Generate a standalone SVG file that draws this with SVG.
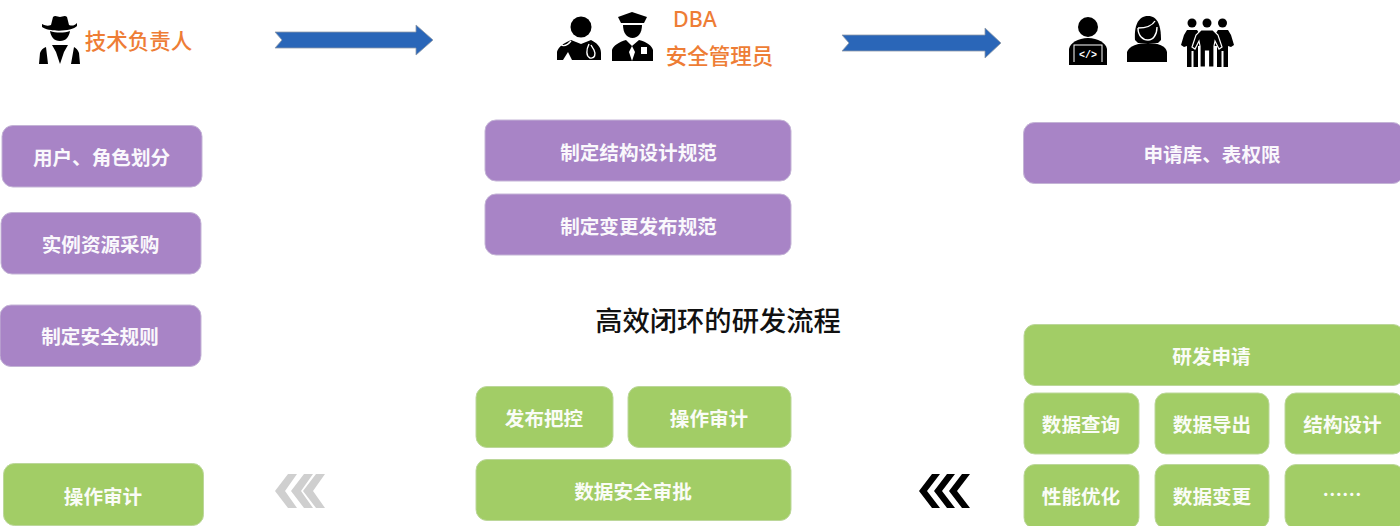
<svg xmlns="http://www.w3.org/2000/svg" width="1400" height="526" viewBox="0 0 1400 526">
<style>
text{font-family:"Noto Sans CJK SC","Noto Sans",sans-serif;text-anchor:middle}
.p{fill:#a884c6;stroke:#c4b4d6;stroke-width:1}
.g{fill:#a2cd66;stroke:#bcd79a;stroke-width:1}
.l{fill:#fff;font-size:19.6px;font-weight:700;opacity:.95}
.o{fill:#ee7d35;font-size:21.5px;font-weight:500}
.t{fill:#111;font-size:27.3px;font-weight:500}
.a{fill:#2a66b8;stroke:#8f9aa8;stroke-width:.8}
.k{fill:#000}
.w{fill:none;stroke:#fff;stroke-width:1.4}
</style>
<rect width="1400" height="526" fill="#fff"/>
<g id="connectors">
<path class="a" d="M275 32H416V25L433 40L416 55V48H275L282 40Z"/>
<path class="a" d="M842 35H985V28L1001 43L985 58V51H842L849 43Z"/>
<path fill="#cfcfcf" d="M288 474H297L285 491L297 508H288L275 491ZM304 474H313L301 491L313 508H304L291 491ZM316 474H325L313 491L325 508H316L303 491Z"/>
<path fill="#000" d="M932 474H940L927 491L940 508H932L919 491ZM947 474H955L942 491L955 508H947L934 491ZM962 474H970L957 491L970 508H962L949 491Z"/>
</g>
<g id="lead">
<path class="k" d="M42 24C46 26 48 26 51 25L53 17C55 15 58 17 60 17C62 17 65 15 67 17L69 25C72 26 74 26 77 23L77 26C72 32 48 32 42 27Z"/>
<path class="k" d="M50 31C56 33 64 33 70 31C69 37 66 41 60 41C54 41 51 37 50 31Z"/>
<path class="k" d="M46 47L48 64H39L40 53C41 50 43 48 46 47ZM74 47L71 64H80L79 53C78 50 76 48 74 47ZM52 45H68L64 52L60 64L56 52Z"/>
<text class="o" x="138.500" y="49">技术负责人</text>
</g>
<g id="dba">
<circle class="k" cx="581" cy="27" r="10.500"/>
<path class="k" d="M557 60V52C558 47 564 43 571 40L581 44L591 40C597 43 601 47 601 53V60H572L568 52L563 60Z"/>
<path d="M589 44C586 50 586 56 590 58C595 59 596 54 594 50L591 45M571 41C566 47 560 47 561 42" fill="none" stroke="#fff" stroke-width="1.400"/>
<path class="k" d="M618 17L632 12L647 17L644 23H621Z"/>
<path class="k" d="M623 25H642C642 33 638 38 632.500 38C627 38 623 33 623 25Z"/>
<path class="k" d="M612 61V50C613 46 619 42 626 40L632 46L639 40C647 42 652 46 653 50V61Z"/>
<path d="M632 46L629 52L632 61L635 52Z" fill="#fff"/>
<rect x="641" y="47" width="6" height="7" fill="#fff"/>
<text class="o" x="695" y="27" style="font-family:'Noto Sans',sans-serif">DBA</text>
<text class="o" x="719.500" y="64">安全管理员</text>
</g>
<g id="devs">
<circle class="k" cx="1088" cy="27" r="10"/>
<path class="k" d="M1069 62V49C1070 43 1078 38 1088 38C1098 38 1106 43 1107 49V62Z"/>
<rect x="1074" y="45" width="28" height="18" fill="#000" stroke="#fff" stroke-width="1"/>
<rect x="1069" y="62" width="38" height="3" fill="#000"/>
<text x="1088" y="58" style="fill:#fff;font-size:10px;font-weight:700;font-family:'Liberation Mono',monospace">&lt;/&gt;</text>
<path class="k" d="M1135 40C1134 26 1138 16 1148 16C1158 16 1161 26 1161 40L1158 43H1138Z"/>
<path class="k" d="M1127 62V52C1129 46 1138 43 1148 43C1158 43 1166 46 1167 52V62Z"/>
<path d="M1138 28C1146 28 1152 26 1155 21M1138 28C1138 36 1143 40 1148 40C1153 40 1157 35 1157 27" class="w"/>
<circle class="k" cx="1192" cy="23" r="4.500"/><circle class="k" cx="1207" cy="23" r="4.500"/><circle class="k" cx="1222.500" cy="23" r="4.500"/>
<path class="k" d="M1187 30H1197L1201 36V46H1198V67H1193.500V51H1191.500V67H1187V46L1184 47L1181 45L1184 35Z"/>
<path class="k" d="M1218 30H1228L1231 35L1234 45L1231 47L1228 46V67H1223.500V51H1221.500V67H1217V46H1214V36Z"/>
<path class="k" stroke="#fff" stroke-width="1.200" d="M1201 30H1213L1218 35L1222 47L1219 49L1215 41L1214 46V67H1208.500V51H1205.500V67H1200V46L1199 41L1195 49L1192 47L1196 35Z"/>
</g>
<g id="n1"><rect class="p" x="2" y="125.500" width="200" height="61.500" rx="11"/><text class="l" x="101.500" y="165">用户、角色划分</text></g>
<g id="n2"><rect class="p" x="1" y="212.500" width="200" height="61.500" rx="11"/><text class="l" x="100.500" y="252">实例资源采购</text></g>
<g id="n3"><rect class="p" x="0" y="305" width="201" height="61.500" rx="11"/><text class="l" x="100" y="344">制定安全规则</text></g>
<g id="n4"><rect class="p" x="485" y="120" width="306" height="61" rx="11"/><text class="l" x="638.500" y="160">制定结构设计规范</text></g>
<g id="n5"><rect class="p" x="485" y="194" width="306" height="61" rx="11"/><text class="l" x="638.500" y="234">制定变更发布规范</text></g>
<g id="n6"><rect class="p" x="1023.500" y="122.500" width="380" height="61" rx="11"/><text class="l" x="1212" y="162">申请库、表权限</text></g>
<g id="title"><text class="t" x="718" y="331">高效闭环的研发流程</text></g>
<g id="n7"><rect class="g" x="476" y="386.500" width="137" height="61" rx="11"/><text class="l" x="544" y="426">发布把控</text></g>
<g id="n8"><rect class="g" x="628" y="386.500" width="163" height="61" rx="11"/><text class="l" x="709" y="426">操作审计</text></g>
<g id="n9"><rect class="g" x="476" y="459.500" width="315" height="61" rx="11"/><text class="l" x="633" y="498.500">数据安全审批</text></g>
<g id="n10"><rect class="g" x="3.500" y="463.500" width="200" height="62" rx="11"/><text class="l" x="103" y="504">操作审计</text></g>
<g id="n11"><rect class="g" x="1024" y="324.500" width="380" height="61" rx="11"/><text class="l" x="1211.500" y="364">研发申请</text></g>
<g id="n12"><rect class="g" x="1024" y="393" width="115" height="61" rx="11"/><text class="l" x="1081" y="432">数据查询</text></g>
<g id="n13"><rect class="g" x="1155" y="393" width="114" height="61" rx="11"/><text class="l" x="1212" y="432">数据导出</text></g>
<g id="n14"><rect class="g" x="1285" y="393" width="119" height="61" rx="11"/><text class="l" x="1342.500" y="432">结构设计</text></g>
<g id="n15"><rect class="g" x="1024" y="464.500" width="115" height="64" rx="11"/><text class="l" x="1081" y="504">性能优化</text></g>
<g id="n16"><rect class="g" x="1155" y="464.500" width="114" height="64" rx="11"/><text class="l" x="1212" y="504">数据变更</text></g>
<g id="n17"><rect class="g" x="1285" y="464.500" width="119" height="64" rx="11"/><text class="l" x="1342" y="502">……</text></g>
</svg>
